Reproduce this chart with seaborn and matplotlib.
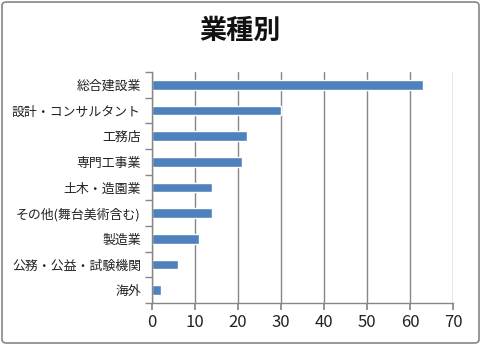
import matplotlib
matplotlib.use("Agg")
import matplotlib.pyplot as plt
import seaborn as sns
import pandas as pd
from matplotlib.patches import FancyBboxPatch
from matplotlib.ticker import FixedLocator

categories = ["総合建設業", "設計・コンサルタント", "工務店", "専門工事業", "土木・造園業",
              "その他(舞台美術含む)", "製造業", "公務・公益・試験機関", "海外"]
values = [63, 30, 22, 21, 14, 14, 11, 6, 2]
xticks = [0, 10, 20, 30, 40, 50, 60, 70]
title = "業種別"

sns.set_theme(style="white")
plt.rcParams['font.family'] = ['Noto Sans CJK JP', 'DejaVu Sans']

df = pd.DataFrame({"cat": categories, "val": values})

fig = plt.figure(figsize=(4.81, 3.45), dpi=100)
ax = fig.add_axes([152/481, 42/345, 301/481, 231/345])
sns.barplot(data=df, y="cat", x="val", orient="h", color="#4F81BD",
            width=0.38, saturation=1, ax=ax)
ax.set_xlim(0, 70)
ax.set_xticks(xticks)
ax.set_xticklabels([str(t) for t in xticks], fontsize=12, color="#222222")
ax.set_yticklabels(categories, fontsize=9.3, color="#222222")
ax.set_xlabel("")
ax.set_ylabel("")
ax.set_ylim(len(categories) - 0.5, -0.5)
ax.grid(axis="x", color="#868686", linewidth=1)
ax.set_axisbelow(True)
for s in ["top", "right"]:
    ax.spines[s].set_visible(False)
for s in ["left", "bottom"]:
    ax.spines[s].set_color("#868686")
    ax.spines[s].set_linewidth(1)
ax.tick_params(axis="x", which="major", length=5, color="#868686", direction="out", bottom=True, pad=3)
ax.tick_params(axis="y", which="major", length=0, pad=8)
ax.yaxis.set_minor_locator(FixedLocator([i - 0.5 for i in range(len(categories) + 1)]))
ax.tick_params(axis="y", which="minor", length=5, color="#868686", direction="out", left=True)

fig.text(0.5, 1 - 31/345, title, ha="center", va="center", fontsize=19.5, fontweight="bold", color="#111111")

border = FancyBboxPatch((2/481, 2/345), 477/481, 341/345, boxstyle="round,pad=0,rounding_size=0.01",
                        transform=fig.transFigure, fill=False, edgecolor="#868686", linewidth=1.2)
fig.patches.append(border)

fig.savefig("out.png", dpi=100)
